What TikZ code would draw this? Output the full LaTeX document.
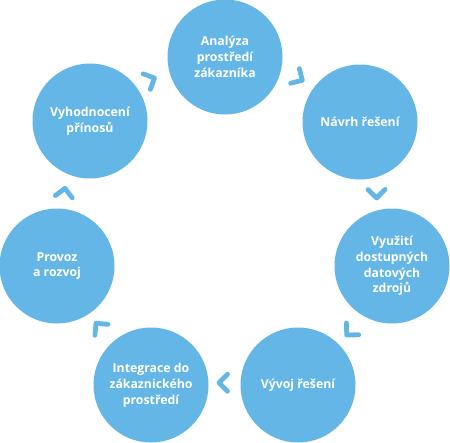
\documentclass[tikz,border=0pt]{standalone}
\usepackage{fontspec}
\setmainfont{Open Sans}
\definecolor{cblue}{RGB}{99,182,229}
\begin{document}
\begin{tikzpicture}[x=1pt,y=-1pt,
  circ/.style={circle,fill=cblue,minimum size=115pt,inner sep=0pt,
    text=white,align=center,font=\fontsize{12.3}{15.8}\selectfont\bfseries},
  chevline/.style={draw=cblue,line width=4.8pt,line cap=round,line join=round},
  chev/.pic={\draw[chevline] (-8.5,-8.5) -- (0,0) -- (-8.5,8.5);}]
\useasboundingbox (0,0) rectangle (450,442);
\node[circ] (a) at (225,57) {Analýza\\prostředí\\zákazníka};
\node[circ] (b) at (360,122) {Návrh řešení};
\node[circ] (c) at (392,266) {Využití\\dostupných\\datových\\zdrojů};
\node[circ] (d) at (298,385) {Vývoj řešení};
\node[circ] (e) at (151,385) {Integrace do\\zákaznického\\prostředí};
\node[circ] (f) at (57,266) {Provoz\\a rozvoj};
\node[circ] (g) at (90,121) {Vyhodnocení\\přínosů};
\coordinate (ga) at (154.5,78);
\coordinate (ab) at (302.3,80.3);
\coordinate (bc) at (376.7,198);
\coordinate (cd) at (346.7,335);
\coordinate (de) at (219,382.7);
\coordinate (ef) at (96,323.3);
\coordinate (fg) at (65,188.3);
\pic[rotate=25] at (ga) {chev};
\pic[rotate=-31] at (ab) {chev};
\pic[rotate=-89] at (bc) {chev};
\pic[rotate=-134] at (cd) {chev};
\pic[rotate=-180] at (de) {chev};
\pic[rotate=-230] at (ef) {chev};
\pic[rotate=-278] at (fg) {chev};
\end{tikzpicture}
\end{document}
